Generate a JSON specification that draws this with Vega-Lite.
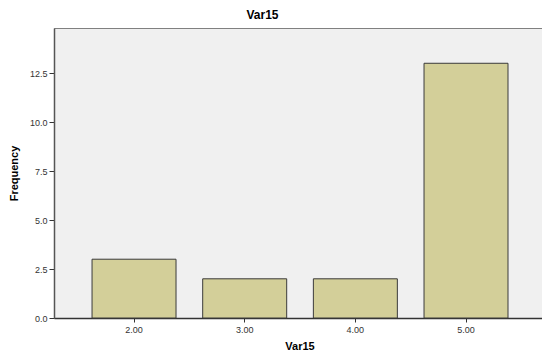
{
  "$schema": "https://vega.github.io/schema/vega-lite/v6.json",
  "width": 491,
  "height": 290,
  "autosize": {"type": "none"},
  "padding": {"left": 54, "top": 28, "right": 0, "bottom": 35},
  "background": "white",
  "title": {
    "text": "Var15",
    "font": "Liberation Sans",
    "fontSize": 12,
    "fontWeight": "bold",
    "color": "#000000",
    "anchor": "middle",
    "offset": 6,
    "dx": -37
  },
  "config": {
    "view": {"fill": "#F0F0F0", "stroke": "#808080", "strokeWidth": 1},
    "axis": {"grid": false, "labelFont": "Liberation Sans", "titleFont": "Liberation Sans"}
  },
  "data": {
    "values": [
      {"Var15": "2.00", "Frequency": 3},
      {"Var15": "3.00", "Frequency": 2},
      {"Var15": "4.00", "Frequency": 2},
      {"Var15": "5.00", "Frequency": 13}
    ]
  },
  "mark": {"type": "bar", "fill": "#D3CF99", "stroke": "#3a3a3a", "strokeWidth": 1},
  "encoding": {
    "x": {
      "field": "Var15",
      "type": "ordinal",
      "sort": null,
      "scale": {"paddingInner": 0.241, "paddingOuter": 0.339, "align": 0.507},
      "axis": {
        "title": "Var15",
        "titleFontSize": 11,
        "titleFontWeight": "bold",
        "titleColor": "#000000",
        "titlePadding": 6,
        "labelAngle": 0,
        "labelFontSize": 9,
        "labelColor": "#333333",
        "labelPadding": 3,
        "tickSize": 4,
        "tickColor": "#333333",
        "domainColor": "#333333",
        "domainWidth": 1.5
      }
    },
    "y": {
      "field": "Frequency",
      "type": "quantitative",
      "scale": {"domain": [0, 14.8], "nice": false},
      "axis": {
        "title": "Frequency",
        "titleFontSize": 11,
        "titleFontWeight": "bold",
        "titleColor": "#000000",
        "titlePadding": 10,
        "values": [0, 2.5, 5, 7.5, 10, 12.5],
        "format": ".1f",
        "labelFontSize": 9,
        "labelColor": "#333333",
        "labelPadding": 2,
        "tickSize": 5,
        "tickColor": "#333333",
        "domainColor": "#555555",
        "domainWidth": 1.5
      }
    }
  }
}
